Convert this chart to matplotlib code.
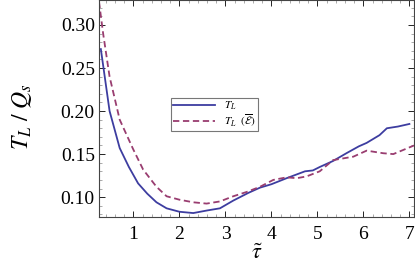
import numpy as np
import matplotlib
matplotlib.use("Agg")
import matplotlib.pyplot as plt
from matplotlib.ticker import MultipleLocator

plt.rcParams['font.family'] = ['Liberation Serif', 'DejaVu Serif']
plt.rcParams['mathtext.fontset'] = 'stix'

# T_L curve
tau_L = [0.29, 0.48, 0.70, 0.90, 1.10, 1.30, 1.50, 1.72, 2.00, 2.30, 2.60, 2.88,
         3.17, 3.50, 3.75, 4.00, 4.33, 4.73, 4.90, 5.05, 5.34, 5.63, 5.90, 6.07,
         6.35, 6.51, 6.75, 7.00]
T_L = [0.272, 0.200, 0.157, 0.135, 0.116, 0.104, 0.094, 0.087, 0.083, 0.0815,
       0.0845, 0.087, 0.096, 0.105, 0.111, 0.115, 0.122, 0.130, 0.131, 0.135,
       0.142, 0.151, 0.159, 0.163, 0.172, 0.180, 0.182, 0.185]

# T_L from energy density
tau_E = [0.25, 0.34, 0.48, 0.70, 0.99, 1.21, 1.50, 1.72, 2.00, 2.30, 2.59, 2.88,
         3.17, 3.46, 3.75, 4.04, 4.33, 4.55, 4.76, 5.05, 5.34, 5.78, 6.07, 6.43,
         6.65, 7.10]
T_E = [0.327, 0.290, 0.240, 0.190, 0.156, 0.132, 0.112, 0.101, 0.097, 0.094,
       0.0925, 0.095, 0.101, 0.106, 0.112, 0.120, 0.123, 0.122, 0.124, 0.130,
       0.143, 0.147, 0.154, 0.151, 0.150, 0.160]

fig = plt.figure(figsize=(4.15, 2.71), dpi=100)
ax = fig.add_axes([99/415, 1 - 216.5/271, 315/415, 216.5/271])

ax.plot(tau_L, T_L, color='#3d3da0', lw=1.3, label=r'$T_L$')
ax.plot(tau_E, T_E, color='#993d70', lw=1.3, ls=(0, (3.5, 2)),
        label=r'$T_L\ \ (\overline{\mathcal{E}})$')

ax.set_xlim(0.25, 7.1)
ax.set_ylim(0.0775, 0.329)
ax.xaxis.set_major_locator(MultipleLocator(1))
ax.xaxis.set_minor_locator(MultipleLocator(0.2))
ax.yaxis.set_major_locator(MultipleLocator(0.05))
ax.yaxis.set_minor_locator(MultipleLocator(0.01))
ax.yaxis.set_major_formatter(plt.FuncFormatter(lambda v, p: f'{v:.2f}'))
ax.tick_params(which='both', direction='in', top=True, right=True,
               labelsize=14)
ax.tick_params(axis='x', pad=7)
ax.tick_params(axis='y', pad=3)
ax.tick_params(which='major', length=4, width=0.6)
ax.tick_params(which='minor', length=2, width=0.5, color='#888888')
for s in ax.spines.values():
    s.set_linewidth(0.8)
    s.set_color('#444444')

ax.set_xlabel(r'$\tilde{\tau}$', fontsize=16, labelpad=1)
ax.set_ylabel(r'$T_L\ /\ Q_s$', fontsize=17)
ax.yaxis.set_label_coords(-0.205, 0.46)

leg = ax.legend(loc='upper left', bbox_to_anchor=(0.21, 0.575), fontsize=8,
                fancybox=False, edgecolor='#777777', handlelength=3.8,
                borderpad=0.2, labelspacing=0.0, handletextpad=0.8,
                framealpha=1)
leg.get_frame().set_linewidth(0.8)

fig.savefig('out.png', dpi=100)
